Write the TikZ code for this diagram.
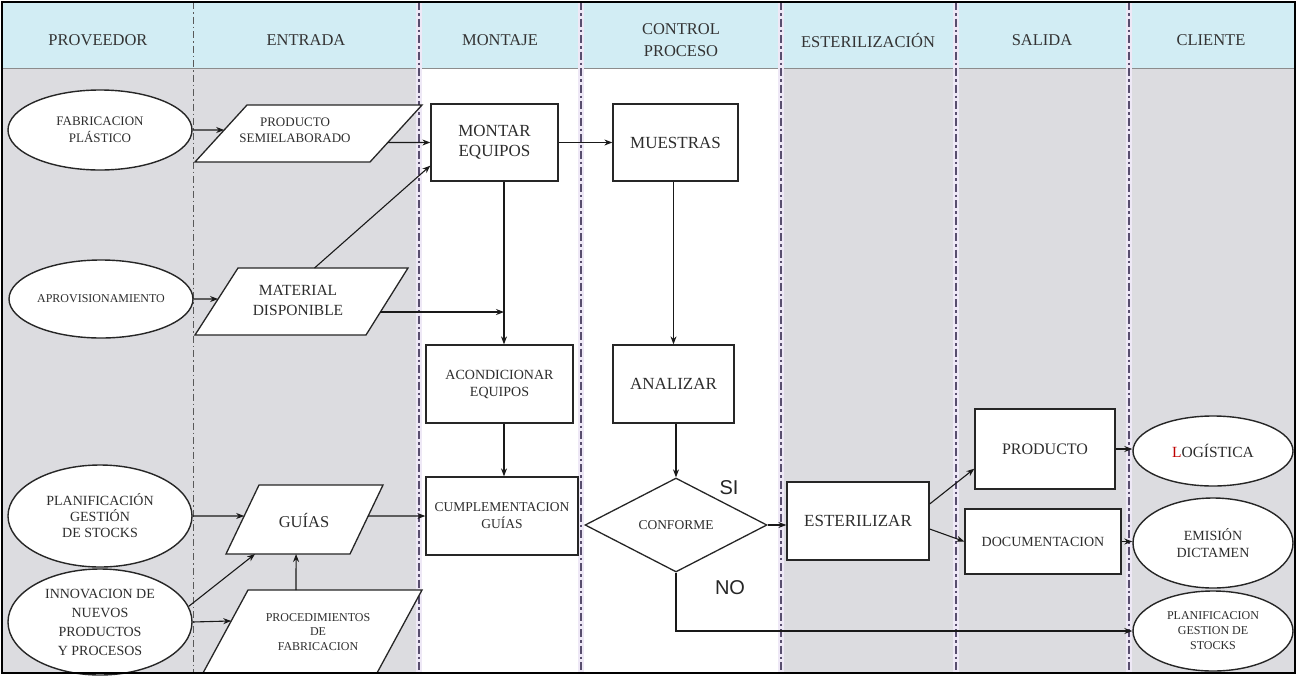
\documentclass[tikz,border=0pt]{standalone}
\usepackage{fontspec}
\setmainfont{Liberation Serif}
\newfontfamily\sansf{Liberation Sans}
\usetikzlibrary{shapes.geometric,arrows.meta,calc}
\definecolor{bodygray}{RGB}{220,220,224}
\definecolor{headblue}{RGB}{210,237,244}
\definecolor{sepcol}{RGB}{88,78,110}
\definecolor{halo}{RGB}{238,232,246}
\definecolor{txt}{RGB}{45,45,45}
\tikzset{
 ell/.style={ellipse, draw=black!85, line width=1.4pt, fill=white, inner sep=0pt, align=center, text=txt},
 box/.style={rectangle, draw=black!85, line width=1.3pt, fill=white, inner sep=0pt, align=center, text=txt},
 para/.style={draw=black!85, line width=1.3pt, fill=white, line join=miter},
 ptext/.style={inner sep=0pt, align=center, text=txt},
 arr/.style={draw=black!90, line width=1.1pt, -{Stealth[length=8pt,width=6pt]}},
 septhin/.style={draw=black!65, line width=1pt, dash pattern=on 7pt off 3pt on 1.5pt off 3pt},
 septhick/.style={draw=sepcol, line width=2.7pt, dash pattern=on 8pt off 3pt on 2.5pt off 3pt},
 head/.style={inner sep=0pt, align=center, text=black!80, font=\fontsize{16.5}{22}\selectfont},
 lbl/.style={inner sep=0pt, text=black!85, font=\sansf\fontsize{20}{20}\selectfont},
}
\begin{document}
\begin{tikzpicture}[x=1pt,y=-1pt]
\useasboundingbox (0,0) rectangle (1298,675);
% backgrounds
\fill[bodygray] (2,68) rectangle (1295,673);
\fill[white] (419,68) rectangle (781,673);
\fill[headblue] (2,2) rectangle (1295,68);
\draw[black!45, line width=1pt] (2,68.5) -- (1295,68.5);
% lane separators
\draw[septhin] (193,2) -- (193,673);
\foreach \x in {419,581,781,956,1129} {
  \draw[halo, line width=6pt] (\x,2) -- (\x,673);
  \draw[septhick] (\x,2) -- (\x,673);
}
% header
\node[head] (hprov) at (98,40) {PROVEEDOR};
\node[head] (hent) at (306,40) {ENTRADA};
\node[head] (hmon) at (500,40) {MONTAJE};
\node[head] (hctl) at (681,40) {CONTROL\\PROCESO};
\node[head] (hest) at (868,40) {ESTERILIZACIÓN};
\node[head] (hsal) at (1042,40) {SALIDA};
\node[head] (hcli) at (1211,40) {CLIENTE};

% ellipses
\node[ell, minimum width=184pt, minimum height=80pt, font=\fontsize{13}{17}\selectfont] (fab) at (100,130) {FABRICACION\\PLÁSTICO};
\node[ell, minimum width=184pt, minimum height=78pt, font=\fontsize{12}{14}\selectfont] (apro) at (101,299) {APROVISIONAMIENTO};
\node[ell, minimum width=184pt, minimum height=102pt, font=\fontsize{14}{16}\selectfont] (plan1) at (100,516) {PLANIFICACIÓN\\GESTIÓN\\DE STOCKS};
\node[ell, minimum width=184pt, minimum height=106pt, font=\fontsize{14}{19}\selectfont] (innov) at (100,622) {INNOVACION DE\\NUEVOS\\PRODUCTOS\\Y PROCESOS};
\node[ell, minimum width=160pt, minimum height=70pt, font=\fontsize{15.5}{18}\selectfont] (logi) at (1213,451) {\textcolor{red!75!black}{L}OGÍSTICA};
\node[ell, minimum width=160pt, minimum height=90pt, font=\fontsize{14}{17}\selectfont] (emis) at (1213,543) {EMISIÓN\\DICTAMEN};
\node[ell, minimum width=160pt, minimum height=80pt, font=\fontsize{12}{15}\selectfont] (plan2) at (1213,631) {PLANIFICACION\\GESTION DE\\STOCKS};

% boxes
\node[box, minimum width=127pt, minimum height=77pt, font=\fontsize{17}{20}\selectfont] (montar) at (494.5,142.5) {MONTAR\\EQUIPOS};
\node[box, minimum width=125pt, minimum height=77pt, font=\fontsize{17}{20}\selectfont] (muestras) at (675.5,142.5) {MUESTRAS};
\node[box, minimum width=147pt, minimum height=78pt, font=\fontsize{14}{17}\selectfont] (acond) at (499.5,384) {ACONDICIONAR\\EQUIPOS};
\node[box, minimum width=121pt, minimum height=78pt, font=\fontsize{17}{20}\selectfont] (analizar) at (673.5,384) {ANALIZAR};
\node[box, minimum width=152pt, minimum height=78pt, font=\fontsize{13.5}{17}\selectfont] (cumpl) at (502,516) {CUMPLEMENTACION\\GUÍAS};
\node[diamond, draw=black!85, line width=1.3pt, fill=white, inner sep=0pt, minimum width=182pt, minimum height=94pt, text=txt, font=\fontsize{13.5}{16}\selectfont] (conf) at (676,525) {CONFORME};
\node[box, minimum width=142pt, minimum height=78pt, font=\fontsize{17}{20}\selectfont] (ester) at (858,521) {ESTERILIZAR};
\node[box, minimum width=140pt, minimum height=80pt, font=\fontsize{16}{20}\selectfont] (prod) at (1045,449) {PRODUCTO};
\node[box, minimum width=156pt, minimum height=65pt, font=\fontsize{14}{17}\selectfont] (docu) at (1043,541.5) {DOCUMENTACION};

% parallelograms
\coordinate (semi-tl) at (247,105); \coordinate (semi-tr) at (422,105);
\coordinate (semi-br) at (370,162); \coordinate (semi-bl) at (195,162);
\draw[para] (semi-tl) -- (semi-tr) -- (semi-br) -- (semi-bl) -- cycle;
\node[ptext, font=\fontsize{13}{16}\selectfont] (semi) at (295,130) {PRODUCTO\\SEMIELABORADO};

\coordinate (mat-tl) at (238,268); \coordinate (mat-tr) at (408,268);
\coordinate (mat-br) at (366,335); \coordinate (mat-bl) at (195,335);
\draw[para] (mat-tl) -- (mat-tr) -- (mat-br) -- (mat-bl) -- cycle;
\node[ptext, font=\fontsize{15.5}{20}\selectfont] (mat) at (298,300) {MATERIAL\\DISPONIBLE};

\coordinate (guias-tl) at (259,485); \coordinate (guias-tr) at (383,485);
\coordinate (guias-br) at (350,554); \coordinate (guias-bl) at (226,554);
\draw[para] (guias-tl) -- (guias-tr) -- (guias-br) -- (guias-bl) -- cycle;
\node[ptext, font=\fontsize{16.5}{20}\selectfont] (guias) at (304,520) {GUÍAS};

\coordinate (proc-tl) at (248,590); \coordinate (proc-tr) at (422,590);
\coordinate (proc-br) at (377,673); \coordinate (proc-bl) at (203,673);
\draw[para] (proc-tl) -- (proc-tr) -- (proc-br) -- (proc-bl) -- cycle;
\node[ptext, font=\fontsize{12}{14.5}\selectfont] (proc) at (318,632) {PROCEDIMIENTOS\\DE\\FABRICACION};

% labels
\node[lbl] (si) at (729,488) {SI};
\node[lbl] (no) at (730,588) {NO};

% connectors
\coordinate (vx) at (504,0);
\coordinate (matR) at ($(mat-tr)!0.657!(mat-br)$);
\draw[arr] (fab.east) -- ($(semi-tl)!0.4386!(semi-bl)$);
\draw[arr] ($(semi-tr)!0.658!(semi-br)$) -- (montar.west);
\draw[arr] ($(mat-tl)!0.45!(mat-tr)$) -- ($(montar.south west)+(0,-16)$);
\draw[arr] (montar.east) -- (muestras.west);
\draw[arr] (apro.east) -- ($(mat-tl)!0.463!(mat-bl)$);
\draw[arr] (matR) -- (vx |- matR);
\draw[arr] (montar.south -| vx) -- (acond.north -| vx);
\draw[arr] (analizar.north |- muestras.south) -- (analizar.north);
\draw[arr] (acond.south -| vx) -- (cumpl.north -| vx);
\draw[arr] (analizar.south -| conf.north) -- (conf.north);
\draw[arr] (conf.east) -- (conf.east -| ester.west);
\draw[arr] (conf.south) |- (plan2.west);
\draw[arr] ($(ester.east)+(0,-17)$) -- ($(prod.south west)+(0,-21)$);
\draw[arr] ($(ester.east)+(0,8)$) -- (docu.west);
\draw[arr] (prod.east) -- (prod.east -| logi.west);
\draw[arr] (docu.east) -- (docu.east -| emis.west);
\draw[arr] (plan1.east) -- ($(guias-tl)!0.449!(guias-bl)$);
\draw[arr] (innov.10) -- ($(guias-bl)!0.234!(guias-br)$);
\draw[arr] (innov.east) -- ($(proc-tl)!0.373!(proc-bl)$);
\draw[arr] ($(proc-tl)!0.276!(proc-tr)$) -- ($(guias-bl)!0.565!(guias-br)$);
\draw[arr] ($(guias-tr)!0.449!(guias-br)$) -- (cumpl.west);

% frame
\draw[line width=2.5pt] (2,2) rectangle (1295,673);
\end{tikzpicture}
\end{document}
